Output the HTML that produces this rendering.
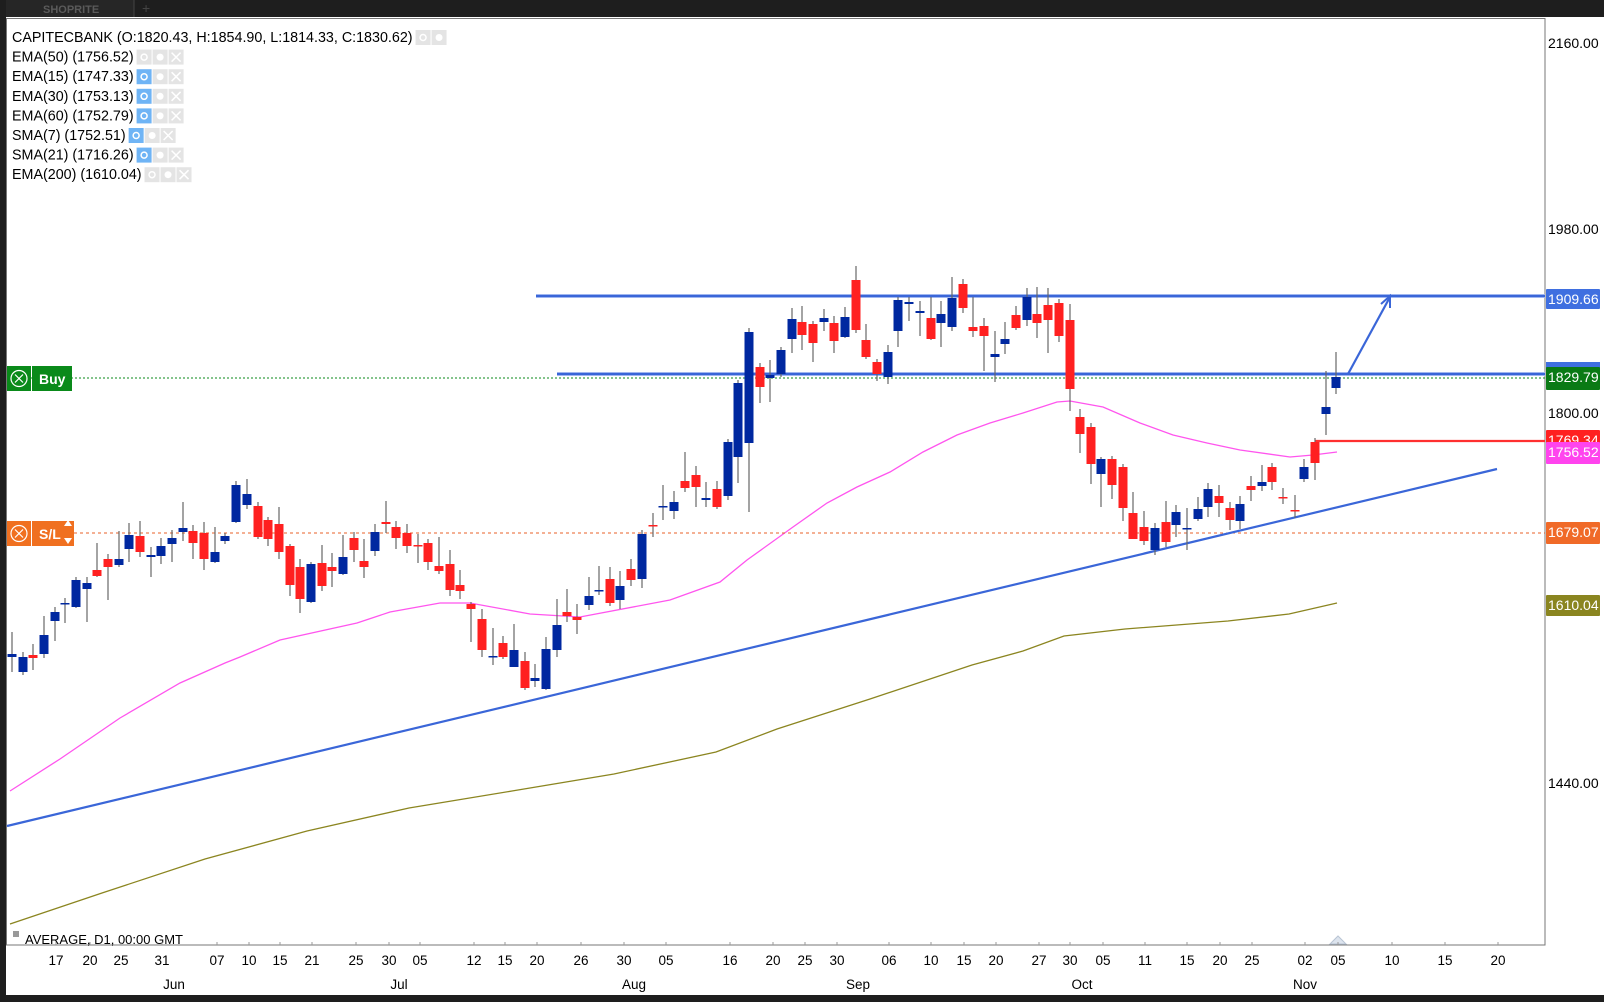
<!DOCTYPE html>
<html><head><meta charset="utf-8"><style>
html,body{margin:0;padding:0;background:#fff;}
body{width:1604px;height:1002px;overflow:hidden;position:relative;font-family:"Liberation Sans",sans-serif;}
svg{position:absolute;left:0;top:0;}
</style></head><body>
<svg id="c" width="1604" height="1002" xmlns="http://www.w3.org/2000/svg" font-family="Liberation Sans, sans-serif">
<rect x="0" y="0" width="1604" height="1002" fill="#fff"/>
<rect x="0" y="0" width="1604" height="17" fill="#1e1e1e"/>
<rect x="0" y="0" width="134" height="17" fill="#262626"/>
<text x="43" y="13" font-size="11" font-weight="bold" fill="#5a5a5a">SHOPRITE</text>
<line x1="134" y1="0" x2="134" y2="17" stroke="#444"/>
<text x="142" y="13" font-size="14" fill="#444">+</text>
<rect x="0" y="0" width="6" height="1002" fill="#1e1e1e"/>
<rect x="0" y="995" width="1604" height="7" fill="#1e1e1e"/>
<rect x="6.5" y="18.5" width="1538.5" height="926.5" fill="none" stroke="#777" stroke-width="1"/>
<g id="g"></g>
</svg>
<script>
var S='http://www.w3.org/2000/svg',g=document.getElementById('g');
function el(n,a,t){var e=document.createElementNS(S,n);for(var k in a)e.setAttribute(k,a[k]);if(t!=null)e.textContent=t;g.appendChild(e);return e;}
el('polyline',{points:'10,924 102,893 205,859 307,831 409,808 512,791 614,774 716,752 777,729 870,699 972,665 1023,651 1064,636 1125,629 1228,621 1289,614 1337,603',fill:'none',stroke:'#8b8520','stroke-width':1.3});
el('polyline',{points:'10,791 60,759 120,718 180,683 225,663 240,657 280,640 357,623 390,612 440,603 470,603 530,614 580,617 670,600 720,582 747,560 793,527 827,503 857,487 890,472 923,452 957,435 990,423 1023,413 1057,402 1070,401 1103,407 1140,423 1173,435 1207,443 1240,450 1290,457 1313,455 1337,452',fill:'none',stroke:'#ff55ee','stroke-width':1.3});
el('line',{x1:7,y1:378,x2:1545,y2:378,stroke:'#0a8a1a','stroke-dasharray':'2,2','stroke-width':1});
el('line',{x1:74,y1:533,x2:1545,y2:533,stroke:'#e8602a','stroke-dasharray':'3,3','stroke-width':1});
function bl(x1,y1,x2,y2){el('line',{x1:x1,y1:y1,x2:x2,y2:y2,stroke:'#9fb6f0','stroke-width':4});el('line',{x1:x1,y1:y1,x2:x2,y2:y2,stroke:'#3a66d8','stroke-width':2});}
bl(536,296,1545,296);bl(557,374,1545,374);
el('line',{x1:7,y1:826,x2:1497,y2:469,stroke:'#3a66d8','stroke-width':2.2});
el('line',{x1:1348,y1:374,x2:1390,y2:297,stroke:'#3a66d8','stroke-width':2.2});
el('polyline',{points:'1381,304 1390,296 1390,308',fill:'none',stroke:'#3a66d8','stroke-width':2});
el('line',{x1:1315,y1:441,x2:1545,y2:441,stroke:'#ff3030','stroke-width':2.2});
var C=[[12,632,672,654,657,1],[23,652,675,657,672,1],[33,644,670,655,658,0],[44,616,658,635,654,1],[55,607,641,612,621,1],[65,598,623,603,604,1],[76,577,608,580,607,1],[87,577,622,583,589,1],[97,543,577,570,576,0],[108,554,600,559,567,0],[119,531,567,559,565,1],[129,523,562,535,549,1],[140,521,557,536,552,0],[151,547,577,555,557,1],[161,538,564,546,556,1],[172,530,562,538,544,1],[183,502,541,528,532,1],[193,525,559,531,543,0],[204,522,570,533,559,0],[215,527,563,552,562,1],[225,533,544,536,541,1],[236,481,523,485,522,1],[247,479,509,494,505,1],[258,502,539,506,537,0],[268,517,546,520,539,0],[279,507,559,524,552,0],[290,544,596,546,585,0],[300,559,613,567,599,0],[311,562,603,564,602,1],[322,545,591,563,586,0],[332,553,587,567,571,0],[343,535,575,557,574,1],[354,532,562,538,550,0],[364,539,578,561,567,0],[375,524,556,532,551,1],[386,501,533,522,524,0],[396,521,549,527,538,0],[407,524,553,533,546,0],[418,534,563,545,546,0],[428,539,570,543,562,0],[439,537,574,566,571,0],[450,550,596,564,590,0],[460,570,599,585,591,0],[471,602,642,604,609,0],[482,609,657,619,650,0],[493,628,665,656,657,1],[503,636,659,643,657,0],[514,624,667,650,667,1],[525,652,690,661,688,0],[535,664,687,678,681,1],[546,637,690,649,689,1],[557,599,657,625,650,1],[567,589,622,612,616,0],[577,604,634,617,620,0],[589,577,610,596,605,1],[599,566,595,590,591,1],[610,567,606,579,603,0],[620,571,609,586,600,1],[631,559,586,569,580,0],[642,530,588,534,579,1],[653,513,537,525,526,0],[663,485,520,506,507,1],[674,491,519,502,511,1],[685,452,492,481,488,0],[696,466,507,475,487,0],[706,482,507,498,500,1],[717,481,509,489,507,0],[728,439,500,442,496,1],[738,380,483,383,457,1],[749,328,512,332,443,1],[760,363,403,367,387,0],[770,360,402,375,378,1],[781,347,377,350,374,1],[792,308,353,319,339,1],[802,306,350,322,335,0],[813,321,362,324,343,0],[824,309,331,318,322,1],[834,316,353,323,341,0],[845,307,338,317,337,1],[856,266,333,280,330,0],[866,324,359,340,357,0],[877,359,381,362,374,0],[888,345,384,352,377,1],[898,297,347,300,331,1],[909,297,321,302,304,1],[920,301,336,311,313,1],[931,297,340,318,339,0],[941,301,347,314,323,1],[952,277,331,298,327,1],[963,279,313,284,308,0],[973,297,337,327,331,0],[984,318,371,326,336,0],[995,331,382,354,357,1],[1005,322,354,339,344,1],[1016,306,330,315,328,0],[1027,288,326,297,320,1],[1037,287,338,314,323,0],[1048,288,353,305,320,0],[1059,299,342,303,336,0],[1070,304,411,320,389,0],[1080,409,453,417,434,0],[1091,423,484,427,464,0],[1101,457,507,459,474,1],[1112,456,499,459,485,0],[1123,464,521,467,508,0],[1133,492,539,513,539,0],[1144,511,545,527,541,0],[1155,523,555,528,550,1],[1166,501,547,522,542,0],[1176,505,537,512,525,1],[1187,508,550,528,529,1],[1198,497,521,509,519,1],[1208,483,517,489,507,1],[1219,485,517,496,503,0],[1230,502,530,508,520,0],[1240,496,529,504,521,1],[1251,476,501,486,490,0],[1262,465,491,482,486,1],[1272,463,490,467,482,0],[1283,488,504,497,498,0],[1295,495,518,510,511,0],[1304,459,482,467,479,1],[1315,438,480,442,463,0],[1326,371,435,407,414,1],[1336,352,394,377,388,1]];
C.forEach(function(c){
 el('line',{x1:c[0],y1:c[1],x2:c[0],y2:c[2],stroke:'#666','stroke-width':1.2});
 var h=Math.max(c[4]-c[3],1.5);
 el('rect',{x:c[0]-4.5,y:c[3],width:9,height:h,fill:c[5]?'#0028a0':'#ff2020'});
});
var L=[['CAPITECBANK (O:1820.43, H:1854.90, L:1814.33, C:1830.62)',0],['EMA(50) (1756.52)',0],['EMA(15) (1747.33)',1],['EMA(30) (1753.13)',1],['EMA(60) (1752.79)',1],['SMA(7) (1752.51)',1],['SMA(21) (1716.26)',1],['EMA(200) (1610.04)',0]];
L.forEach(function(l,i){var y=37+i*19.6;var t=el('text',{x:12,y:y+5,'font-size':14.3,fill:'#000'},l[0]);
 var w=t.getComputedTextLength?t.getComputedTextLength():l[0].length*7;var x=13+w+2;
 var n=i==0?2:3;for(var k=0;k<n;k++){el('rect',{x:x+k*16,y:y-7,width:15,height:15,fill:(k==0&&l[1])?'#6fb4f5':'#e4e4e4'});
 if(k==0)el('circle',{cx:x+7.5,cy:y+0.5,r:3,fill:'none',stroke:'#fff','stroke-width':1.5});
 else if(k==1)el('circle',{cx:x+k*16+7.5,cy:y+0.5,r:3.5,fill:'#fff'});
 else{el('line',{x1:x+k*16+3,y1:y-4,x2:x+k*16+12,y2:y+5,stroke:'#fff','stroke-width':1.5});el('line',{x1:x+k*16+12,y1:y-4,x2:x+k*16+3,y2:y+5,stroke:'#fff','stroke-width':1.5});}}
});
function btn(y,col,label){el('rect',{x:7,y:y,width:24,height:25,fill:col});el('circle',{cx:19,cy:y+12.5,r:8,fill:'none',stroke:'#fff','stroke-width':1.2});
 el('line',{x1:15,y1:y+8.5,x2:23,y2:y+16.5,stroke:'#fff','stroke-width':1.2});el('line',{x1:23,y1:y+8.5,x2:15,y2:y+16.5,stroke:'#fff','stroke-width':1.2});
 el('rect',{x:32,y:y,width:label=='Buy'?40:42,height:25,fill:col});el('text',{x:39,y:y+18,'font-size':14,'font-weight':'bold',fill:'#fff'},label);}
btn(366,'#0a8a1a','Buy');btn(521,'#f07020','S/L');
el('polygon',{points:'64,526 72,526 68,520',fill:'#fff'});el('polygon',{points:'64,538 72,538 68,544',fill:'#fff'});
[['2160.00',43],['1980.00',229],['1800.00',413],['1440.00',783]].forEach(function(a){el('text',{x:1548,y:a[1]+5,'font-size':14,fill:'#000'},a[0]);});
function lab(y,h,col,t,tc){el('rect',{x:1546,y:y,width:54,height:h,fill:col,rx:1});el('text',{x:1548,y:y+15,'font-size':14,fill:tc||'#fff'},t);}
lab(289,20,'#3f6fe0','1909.66');
el('rect',{x:1546,y:362,width:54,height:6,fill:'#3f6fe0'});
lab(367,23,'#0a7a15','1829.79');
lab(430,20,'#ff2020','1769.34');
lab(442,22,'#ff44ee','1756.52');
lab(522,22,'#f06a28','1679.07');
lab(595,21,'#8a8520','1610.04');
el('rect',{x:13,y:931,width:6,height:6,fill:'#999'});
el('text',{x:25,y:944,'font-size':13,fill:'#000'},'AVERAGE, D1, 00:00 GMT');
el('polygon',{points:'1330,944 1346,944 1338,936',fill:'#dde4ee',stroke:'#b8c4d4'});
var D=[['17',56],['20',90],['25',121],['31',162],['07',217],['10',249],['15',280],['21',312],['25',356],['30',389],['05',420],['12',474],['15',505],['20',537],['26',581],['30',624],['05',666],['16',730],['20',773],['25',805],['30',837],['06',889],['10',931],['15',964],['20',996],['27',1039],['30',1070],['05',1103],['11',1145],['15',1187],['20',1220],['25',1252],['02',1305],['05',1338],['10',1392],['15',1445],['20',1498]];
D.forEach(function(d){el('line',{x1:d[1],y1:942,x2:d[1],y2:945,stroke:'#999'});el('text',{x:d[1],y:965,'font-size':13.5,'text-anchor':'middle',fill:'#000'},d[0]);});
[['Jun',174],['Jul',399],['Aug',634],['Sep',858],['Oct',1082],['Nov',1305]].forEach(function(m){el('text',{x:m[1],y:989,'font-size':13.5,'text-anchor':'middle',fill:'#000'},m[0]);});
</script>
</body></html>
